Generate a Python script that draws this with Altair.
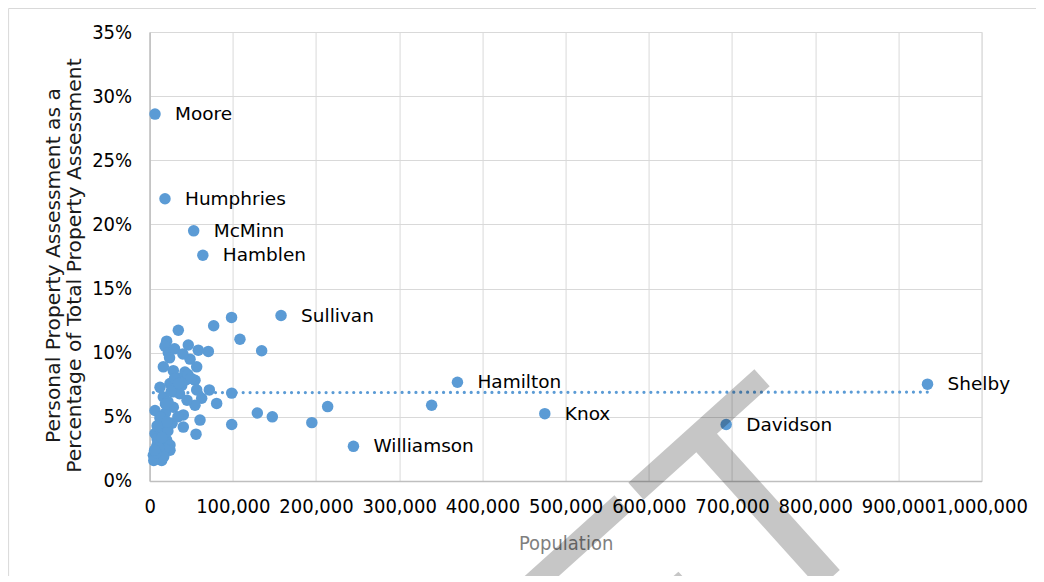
import altair as alt
import pandas as pd

# Labelled counties
label_names = ["Moore", "Humphries", "McMinn", "Hamblen", "Sullivan",
               "Hamilton", "Knox", "Williamson", "Davidson", "Shelby"]
label_pop = [6500, 18500, 53000, 64000, 158000, 370000, 475000, 245000, 693000, 935000]
label_pct = [28.6, 22.0, 19.5, 17.6, 12.9, 7.7, 5.25, 2.7, 4.4, 7.55]

# Unlabelled counties (population, personal property share %)
other_pop = [98500, 77000, 108600, 134700, 34500, 20500, 18500, 46500, 58500, 70600,
             22500, 30000, 48600, 16500, 28500, 56600, 42500, 54600, 34500, 12500,
             24500, 38600, 28500, 16500, 56600, 62600, 71800, 98700, 80600, 54600,
             6500, 28500, 40500, 12500, 20500, 60600, 40500, 129500, 147500, 98700,
             55800, 6500, 20500, 8500, 24500, 4500, 14500, 24500, 214000, 195000,
             339000, 10000, 12000, 7000, 5000, 16000, 18000, 9000, 14000, 19000,
             27000, 32000, 44000, 36000, 46000, 22000, 26000, 11000, 17000, 13000,
             30000, 40000, 24000, 50000, 34000, 22000, 8000, 15000, 21000, 6000,
             35000, 45000, 19000, 9000]
other_pct = [12.75, 12.1, 11.05, 10.15, 11.75, 10.9, 10.5, 10.6, 10.2, 10.1,
             10.0, 10.3, 9.5, 8.9, 8.6, 8.9, 8.5, 7.85, 8.0, 7.3,
             7.6, 7.45, 6.95, 6.55, 7.1, 6.45, 7.1, 6.85, 6.05, 5.9,
             5.5, 5.75, 5.15, 4.9, 4.25, 4.75, 4.2, 5.3, 5.0, 4.4,
             3.65, 3.7, 3.2, 2.7, 2.8, 2.0, 1.6, 2.4, 5.8, 4.55,
             5.9, 3.0, 2.2, 1.7, 1.6, 3.6, 2.5, 3.3, 4.0, 5.3,
             4.5, 7.3, 7.9, 6.8, 8.3, 6.2, 7.0, 2.6, 1.9, 5.0,
             8.0, 9.9, 9.6, 8.0, 5.0, 3.9, 2.2, 3.4, 4.6, 2.4,
             7.6, 6.3, 6.0, 4.3]

x_ticks = list(range(0, 1000001, 100000))
y_ticks = [0, 5, 10, 15, 20, 25, 30, 35]

df = pd.DataFrame({
    "pop": label_pop + other_pop,
    "pct": label_pct + other_pct,
    "name": label_names + [""] * len(other_pop),
})

BLUE = "#5b9bd5"
TICK_FONT = "DejaVu Sans Condensed, Liberation Sans Narrow, DejaVu Sans"
LABEL_FONT = "DejaVu Sans"

x_enc = alt.X("pop:Q", scale=alt.Scale(domain=[0, 1000000], nice=False),
              axis=alt.Axis(values=x_ticks, format=",d", title="Population",
                            labelOverlap=False, labelFlush=False,
                            labelFont=TICK_FONT, labelFontSize=20, labelColor="#000000",
                            labelPadding=16, ticks=False,
                            titleFont=TICK_FONT, titleFontSize=20, titleColor="#7f7f7f",
                            titleFontWeight="normal", titlePadding=17,
                            grid=True, gridColor="#d9d9d9", domainColor="#bfbfbf",
                            domainWidth=1.5))
y_enc = alt.Y("pct:Q", scale=alt.Scale(domain=[0, 35], nice=False),
              axis=alt.Axis(values=y_ticks, labelExpr="datum.value + '%'",
                            title=["Personal Property Assessment as a",
                                   "Percentage of Total Property Assessment"],
                            labelFont=TICK_FONT, labelFontSize=20, labelColor="#000000",
                            labelPadding=18, ticks=False, labelOverlap=False,
                            titleFont=LABEL_FONT, titleFontSize=20.3, titleColor="#1a1a1a",
                            titleFontWeight="normal", titlePadding=7, titleLineHeight=21,
                            titleY=233,
                            grid=True, gridColor="#d9d9d9", domainColor="#bfbfbf",
                            domainWidth=1.5))

base = alt.Chart(df)

border = base.mark_rect(fill=None, stroke="#d9d9d9", strokeWidth=1).encode(
    x=alt.value(-141), x2=alt.value(890), y=alt.value(-23.5), y2=alt.value(600)
).transform_filter("datum.name == 'Moore'")

points = base.mark_circle(size=132, opacity=1, color=BLUE).encode(x=x_enc, y=y_enc)

trend = base.transform_regression("pop", "pct").mark_line(
    color=BLUE, strokeWidth=3.2, strokeDash=[0.01, 6.9], strokeCap="round"
).encode(x="pop:Q", y="pct:Q")

labels = base.transform_filter("datum.name != ''").mark_text(
    align="left", baseline="middle", dx=20, font=LABEL_FONT, fontSize=18.5, color="#000000"
).encode(x="pop:Q", y="pct:Q", text="name:N")

watermark = base.transform_filter("datum.name == 'Moore'").mark_text(
    text="DRAFT", align="right", baseline="alphabetic", angle=318,
    font="Liberation Sans", fontSize=300, color="#000000", opacity=0.22
).encode(x=alt.value(748), y=alt.value(486))

chart = alt.layer(border, trend, points, labels, watermark).properties(
    width=832, height=449,
    autosize=alt.AutoSizeParams(type="none"),
    padding={"left": 141.6, "top": 24, "right": 54, "bottom": 95},
).configure_view(stroke=None).configure(background="#ffffff")

chart.save("out.html", embed_options={"renderer": "svg", "actions": False})
